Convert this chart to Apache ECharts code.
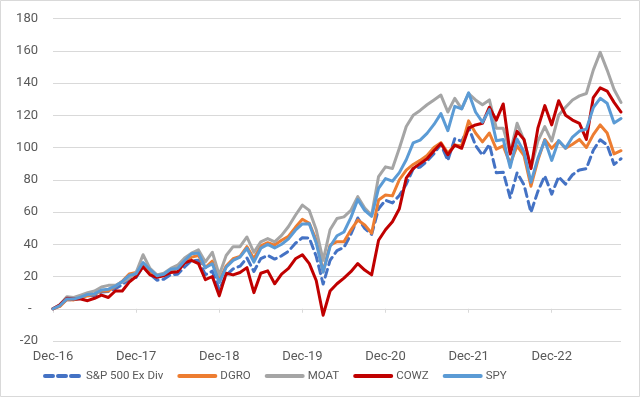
<!DOCTYPE html>
<html>
<head>
<meta charset="utf-8">
<script src="https://cdn.jsdelivr.net/npm/echarts@6/dist/echarts.min.js"></script>
<style>
html,body{margin:0;padding:0;background:#fff;}
#chart{width:640px;height:397px;}
</style>
</head>
<body>
<div id="chart"></div>
<script>
var categories = [
  'Dec-16',
  'Jan-17','Feb-17','Mar-17','Apr-17','May-17','Jun-17','Jul-17','Aug-17','Sep-17','Oct-17','Nov-17','Dec-17',
  'Jan-18','Feb-18','Mar-18','Apr-18','May-18','Jun-18','Jul-18','Aug-18','Sep-18','Oct-18','Nov-18','Dec-18',
  'Jan-19','Feb-19','Mar-19','Apr-19','May-19','Jun-19','Jul-19','Aug-19','Sep-19','Oct-19','Nov-19','Dec-19',
  'Jan-20','Feb-20','Mar-20','Apr-20','May-20','Jun-20','Jul-20','Aug-20','Sep-20','Oct-20','Nov-20','Dec-20',
  'Jan-21','Feb-21','Mar-21','Apr-21','May-21','Jun-21','Jul-21','Aug-21','Sep-21','Oct-21','Nov-21','Dec-21',
  'Jan-22','Feb-22','Mar-22','Apr-22','May-22','Jun-22','Jul-22','Aug-22','Sep-22','Oct-22','Nov-22','Dec-22',
  'Jan-23','Feb-23','Mar-23','Apr-23','May-23','Jun-23','Jul-23','Aug-23','Sep-23','Oct-23'
];

var sp500ExDiv = [
  0,
  1.8,5.8,5.5,6.5,8.0,8.2,10.4,10.7,12.4,15.0,18.6,19.4,
  26.1,21.5,17.7,18.3,21.2,21.4,25.9,29.9,30.1,21.1,23.3,11.8,
  20.8,24.7,26.4,31.5,23.1,31.1,33.1,30.8,32.8,35.7,40.6,44.0,
  43.9,32.5,15.3,30.0,36.1,38.0,46.1,56.3,49.8,46.1,62.0,67.3,
  65.6,70.2,77.3,86.7,87.9,91.5,96.2,102.0,92.0,105.5,103.8,112.5,
  101.3,95.3,102.0,84.3,84.7,68.8,84.3,76.8,59.8,72.8,82.4,71.1,
  81.8,77.3,83.1,86.1,86.9,98.3,104.8,101.5,89.5,93.0
];

var dgro = [
  0,
  1.5,5.8,5.5,6.8,8.0,9.0,11.0,11.0,14.0,17.0,21.5,22.5,
  27.5,23.0,20.5,21.0,23.5,25.0,29.0,32.0,33.0,25.5,29.5,17.5,
  26.5,31.0,32.5,38.5,31.0,39.0,41.0,39.5,42.5,45.0,50.5,55.5,
  53.0,42.6,23.0,39.5,41.6,41.6,48.8,55.0,52.0,46.8,67.4,70.5,
  70.0,80.0,86.0,89.5,92.0,95.0,100.0,103.0,96.5,101.5,101.0,116.5,
  109.0,103.5,109.0,99.0,101.0,90.0,101.0,95.0,76.0,92.0,105.0,99.5,
  104.0,99.5,102.0,105.0,100.0,108.0,114.0,109.0,96.0,98.0
];

var moat = [
  0,
  2.5,7.5,7.0,8.5,10.0,11.0,13.5,14.5,14.5,16.5,19.0,22.5,
  33.5,25.0,21.0,22.0,25.0,27.0,31.5,34.5,36.5,29.0,35.0,21.0,
  33.0,38.5,38.5,44.5,35.0,41.5,43.5,41.5,45.5,51.0,58.0,64.3,
  61.0,49.0,30.0,49.0,56.0,57.0,61.0,69.5,62.5,58.0,82.0,88.0,
  87.0,99.5,113.0,120.0,123.0,126.5,129.5,132.5,122.0,130.5,124.0,133.5,
  129.5,126.5,129.5,112.0,112.0,96.5,115.0,104.5,87.0,104.0,113.0,104.0,
  120.0,125.0,129.5,132.0,133.5,148.0,159.0,148.0,136.0,128.0
];

var cowz = [
  0,
  2.5,6.5,6.0,6.0,5.0,6.5,8.5,7.0,11.0,11.0,16.5,20.0,
  26.0,21.0,19.5,20.5,22.5,23.0,28.5,30.0,28.0,18.0,20.0,8.0,
  22.0,21.0,22.5,25.5,10.0,22.0,23.5,15.5,21.5,25.0,31.0,33.5,
  28.0,17.5,-4.0,11.0,15.5,19.0,23.0,28.0,24.0,21.0,42.5,49.0,
  54.0,62.0,81.0,87.0,90.0,93.0,98.0,102.5,95.5,101.5,99.5,112.0,
  114.0,115.0,125.0,117.0,127.0,96.0,110.0,105.0,87.0,112.0,126.0,114.0,
  129.0,120.0,117.0,115.0,105.0,131.0,137.0,135.0,128.0,122.0
];

var spy = [
  0,
  2.0,6.1,6.0,7.2,8.9,9.2,11.6,12.1,14.0,16.9,20.7,21.7,
  28.7,24.2,20.5,21.4,24.5,24.9,29.8,34.1,34.5,25.4,27.9,16.2,
  25.7,30.0,32.0,37.5,28.9,37.5,39.9,37.7,40.0,43.3,48.7,52.6,
  52.7,40.8,22.7,38.6,45.3,47.6,56.5,67.7,61.0,57.3,74.7,80.7,
  79.1,84.4,92.4,102.9,104.6,108.8,114.3,121.0,110.4,125.5,124.0,133.9,
  122.0,115.7,123.5,104.2,105.0,87.6,105.2,97.2,78.5,93.3,104.4,92.0,
  104.3,99.6,106.5,110.2,111.4,124.7,130.5,127.5,115.2,118.0
];

var seriesNames = ['S&P 500 Ex Div','DGRO','MOAT','COWZ','SPY'];
var seriesColors = ['#4472C4','#ED7D31','#A5A5A5','#C00000','#5B9BD5'];
var yTicks = { min: -20, max: 180, step: 20 };

var dataList = [sp500ExDiv, dgro, moat, cowz, spy];
var textColor = '#595959';
var gridColor = '#D9D9D9';

var series = seriesNames.map(function (name, k) {
  return {
    name: name,
    type: 'line',
    data: dataList[k],
    symbol: 'none',
    smooth: false,
    animation: false,
    lineStyle: {
      color: seriesColors[k],
      width: 3,
      type: k === 0 ? [8, 5] : 'solid',
      cap: 'round',
      join: 'round'
    },
    itemStyle: { color: seriesColors[k] }
  };
});

var chart = echarts.init(document.getElementById('chart'), null, { renderer: 'canvas' });
chart.setOption({
  animation: false,
  backgroundColor: '#ffffff',
  graphic: [{
    type: 'rect',
    shape: { x: 0.5, y: 0.5, width: 639, height: 396 },
    style: { fill: 'none', stroke: '#D9D9D9', lineWidth: 1 },
    silent: true, z: -1
  }],
  grid: { left: 53, right: 19, top: 18.5, bottom: 56, containLabel: false, outerBoundsMode: 'none' },
  legend: {
    left: 38,
    top: 365,
    itemWidth: 36,
    itemHeight: 14,
    itemGap: 14,
    itemStyle: { opacity: 0 },
    lineStyle: { width: 4, cap: 'round' },
    textStyle: { color: textColor, fontSize: 11.5, fontFamily: 'Roboto, sans-serif' },
    data: seriesNames
  },
  xAxis: {
    type: 'category',
    data: categories,
    boundaryGap: false,
    axisLine: { onZero: true, lineStyle: { color: gridColor, width: 1 } },
    axisTick: { show: true, interval: 11, length: 4, inside: false, lineStyle: { color: gridColor } },
    axisLabel: { interval: 11, color: textColor, fontSize: 13, fontFamily: 'Roboto, sans-serif', margin: 9 },
    splitLine: { show: false }
  },
  yAxis: {
    type: 'value',
    min: yTicks.min,
    max: yTicks.max,
    interval: yTicks.step,
    axisLine: { show: false },
    axisTick: { show: false },
    axisLabel: {
      color: textColor, fontSize: 13, fontFamily: 'Roboto, sans-serif', margin: 15,
      formatter: function (v) { return v === 0 ? '-  ' : String(v); }
    },
    splitLine: { lineStyle: { color: gridColor, width: 1 } }
  },
  series: series
});
</script>
</body>
</html>
